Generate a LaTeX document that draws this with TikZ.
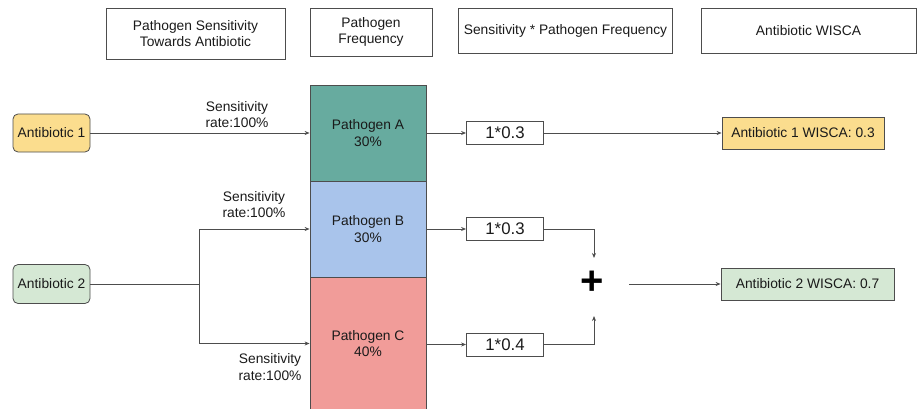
\documentclass[tikz,border=0pt]{standalone}
\usepackage{fontspec}
\setmainfont{Liberation Sans}
\usetikzlibrary{arrows.meta}
\definecolor{linec}{HTML}{4D4D4D}
\definecolor{txt}{HTML}{1A1A1A}
\definecolor{yel}{HTML}{FBDD8E}
\definecolor{grn}{HTML}{D5E8D4}
\definecolor{teal}{HTML}{67AB9F}
\definecolor{blu}{HTML}{A9C4EB}
\definecolor{redd}{HTML}{F19C99}
\tikzset{
  box/.style={draw=linec, line width=0.8pt, inner sep=0pt, align=center, text=txt,
    font=\fontsize{13.8}{16.8}\selectfont},
  hdr/.style={box},
  lbl/.style={inner sep=0pt, align=center, text=txt, font=\fontsize{13.8}{16.8}\selectfont},
  conn/.style={draw=linec, line width=0.8pt},
  arr/.style={conn, -{Stealth[length=5pt,width=4pt]}},
}
\begin{document}
\begin{tikzpicture}[x=1pt,y=-1pt]
\useasboundingbox (0,0) rectangle (918,409);
\begin{scope}
\clip (0,0) rectangle (918,409);
% headers
\node[hdr, minimum width=179, minimum height=51] (h1) at (195.5,33.5) {Pathogen Sensitivity\\Towards Antibiotic};
\node[hdr, minimum width=122, minimum height=48] (h2) at (371,32) {Pathogen\\Frequency};
\node[hdr, minimum width=214, minimum height=45] (h3) at (565.5,30.5) {Sensitivity * Pathogen Frequency};
\node[hdr, minimum width=215, minimum height=45] (h4) at (808.5,30.5) {Antibiotic WISCA};
% antibiotics
\node[box, fill=yel, rounded corners=5pt, minimum width=77, minimum height=38] (ab1) at (51.5,133) {Antibiotic 1};
\node[box, fill=grn, rounded corners=5pt, minimum width=77, minimum height=39] (ab2) at (51.5,284) {Antibiotic 2};
% pathogens
\node[box, fill=teal, minimum width=116, minimum height=96] (pA) at (368,133) {Pathogen A\\30\%};
\node[box, fill=blu, minimum width=116, minimum height=96] (pB) at (368,229) {Pathogen B\\30\%};
\node[box, fill=redd, minimum width=116, minimum height=133] (pC) at (368,343.5) {Pathogen C\\40\%};
% products
\node[box, font=\fontsize{16.8}{18}\selectfont, minimum width=77, minimum height=23] (m1) at (505,133) {1*0.3};
\node[box, font=\fontsize{16.8}{18}\selectfont, minimum width=77, minimum height=23] (m2) at (505,229) {1*0.3};
\node[box, font=\fontsize{16.8}{18}\selectfont, minimum width=77, minimum height=23] (m3) at (505,344.5) {1*0.4};
% results
\node[box, fill=yel, minimum width=162, minimum height=32] (w1) at (803,133) {Antibiotic 1 WISCA: 0.3};
\node[box, fill=grn, minimum width=173, minimum height=32] (w2) at (807.5,284) {Antibiotic 2 WISCA: 0.7};
% plus
\node[inner sep=0pt, font=\fontsize{40}{40}\selectfont\bfseries] (plus) at (592,283) {+};
% coordinates
\coordinate (split) at (199,284);
\coordinate (p2) at (594,258);
\coordinate (p3) at (594,316);
\coordinate (p4) at (629,284);
% connectors
\draw[arr] (ab1) -- (pA);
\draw[conn] (ab2) -- (split);
\draw[arr] (split) |- (pB.west);
\draw[arr] (split) |- (pC.west);
\draw[arr] (pA.east) -- (m1);
\draw[arr] (pB.east) -- (m2);
\draw[arr] (pC.east|-m3) -- (m3);
\draw[arr] (m1) -- (w1);
\draw[arr] (m2) -| (p2);
\draw[arr] (m3) -| (p3);
\draw[arr] (p4) -- (w2);
% labels
\node[lbl] (l1) at (237,114.5) {Sensitivity\\rate:100\%};
\node[lbl] (l2) at (254,204.5) {Sensitivity\\rate:100\%};
\node[lbl] (l3) at (270,367) {Sensitivity\\rate:100\%};
\end{scope}
\end{tikzpicture}
\end{document}
